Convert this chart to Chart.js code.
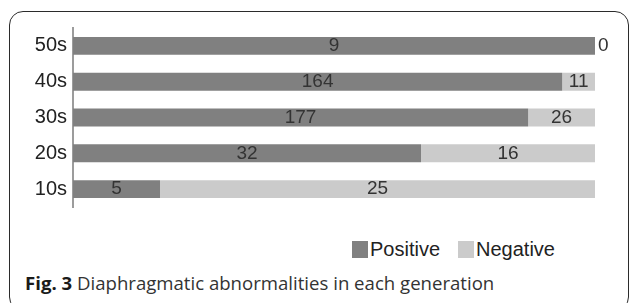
<!DOCTYPE html>
<html>
<head>
<meta charset="utf-8">
<script src="https://cdn.jsdelivr.net/npm/chart.js@4/dist/chart.umd.min.js"></script>
<style>
    html, body { margin: 0; padding: 0; background: #fff; }
    body { width: 629px; height: 303px; position: relative; overflow: hidden; font-family: "Liberation Sans", Arial, sans-serif; }
    .frame {
        position: absolute; left: 9px; top: 11px; width: 620px; height: 300px;
        border: 1.5px solid #2b2b2b; border-radius: 14px; box-sizing: border-box;
    }
    .plot { position: absolute; left: 0; top: 0; width: 629px; height: 225px; }
    .legend { position: absolute; left: 352px; top: 238px; display: flex; align-items: center; font-size: 20px; color: #222; }
    .legend span.box { display: inline-block; width: 16px; height: 17px; margin-right: 2px; }
    .legend .item { display: flex; align-items: center; margin-right: 18px; }
    .caption { position: absolute; left: 25px; top: 270px; font-family: "Open Sans", sans-serif; font-size: 18.6px; color: #333; white-space: nowrap; }
    .caption b { color: #1a1a1a; }
</style>
</head>
<body>
<div class="frame"></div>
<div class="plot"><canvas id="chart" width="629" height="225"></canvas></div>
<div class="legend" id="legend"></div>
<div class="caption"><b>Fig. 3</b> Diaphragmatic abnormalities in each generation</div>
<script>
const AGE_GROUPS = ["50s", "40s", "30s", "20s", "10s"];
const POSITIVE = [9, 164, 177, 32, 5];
const NEGATIVE = [0, 11, 26, 16, 25];
const SERIES_NAMES = ["Positive", "Negative"];
const SERIES_COLORS = ["#808080", "#cbcbcb"];

// bars are 100% stacked, labels show the raw counts
const share = (part, idx) => (part / (POSITIVE[idx] + NEGATIVE[idx])) * 100;
const counts = [POSITIVE, NEGATIVE];

const countLabels = {
    id: "countLabels",
    afterDatasetsDraw(chart) {
        const ctx = chart.ctx;
        ctx.save();
        ctx.font = "19px 'Liberation Sans', Arial, sans-serif";
        ctx.fillStyle = "#333";
        ctx.textBaseline = "middle";
        chart.data.datasets.forEach((dataset, di) => {
            chart.getDatasetMeta(di).data.forEach((bar, i) => {
                const value = counts[di][i];
                if (value === 0) {
                    ctx.textAlign = "left";
                    ctx.fillText(String(value), bar.x + 3, bar.y);
                } else {
                    ctx.textAlign = "center";
                    ctx.fillText(String(value), (bar.x + bar.base) / 2, bar.y);
                }
            });
        });
        ctx.restore();
    },
};

new Chart(document.getElementById("chart"), {
    type: "bar",
    data: {
        labels: AGE_GROUPS,
        datasets: counts.map((values, index) => ({
            label: SERIES_NAMES[index],
            data: values.map((v, i) => share(v, i)),
            backgroundColor: SERIES_COLORS[index],
            borderWidth: 0,
            categoryPercentage: 1,
            barPercentage: 0.5,
        })),
    },
    options: {
        indexAxis: "y",
        responsive: false,
        animation: false,
        layout: { padding: { left: 0, top: 28, right: 34, bottom: 17 } },
        plugins: {
            legend: { display: false },
            tooltip: { enabled: false },
        },
        scales: {
            x: { stacked: true, min: 0, max: 100, display: false },
            y: {
                stacked: true,
                grid: { display: false, drawTicks: false },
                border: { display: true, color: "#9c9c9c", width: 2 },
                ticks: { color: "#222", padding: 6, font: { size: 20, family: "'Liberation Sans', Arial, sans-serif" } },
                afterFit: (scale) => { scale.width = 73; },
            },
        },
    },
    plugins: [countLabels],
});

const legend = document.getElementById("legend");
SERIES_NAMES.forEach((name, index) => {
    const item = document.createElement("div");
    item.className = "item";
    item.innerHTML = `<span class="box" style="background:${SERIES_COLORS[index]}"></span>${name}`;
    legend.appendChild(item);
});
</script>
</body>
</html>
